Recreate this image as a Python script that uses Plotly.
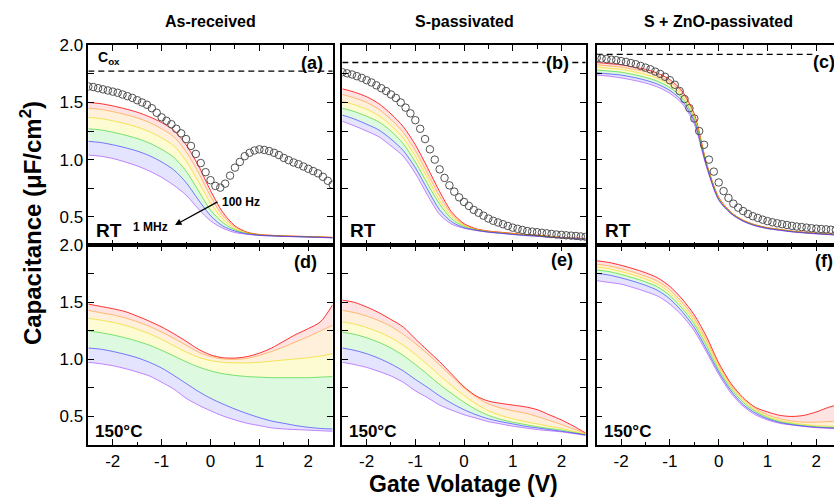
import plotly.graph_objects as go

# ---------------- data ----------------
V_LINES = [-2.5 + 0.25 * i for i in range(21)]          # gate voltage grid of the frequency curves
V_CIRC = [round(-2.5 + 0.1 * i, 2) for i in range(51)]  # gate voltage grid of the open-circle curves

COX = {"a": 1.775, "b": 1.85, "c": 1.92}

# RT, open circles
circ_a = [1.64, 1.635, 1.625, 1.615, 1.605, 1.595, 1.585, 1.57, 1.555, 1.54, 1.52, 1.50, 1.48, 1.45, 1.41,
          1.37, 1.34, 1.31, 1.27, 1.23, 1.18, 1.12, 1.05, 0.97, 0.89, 0.82, 0.77, 0.755, 0.79, 0.86,
          0.93, 0.98, 1.03, 1.06, 1.08, 1.09, 1.085, 1.075, 1.06, 1.04, 1.015, 0.995, 0.975, 0.96, 0.94,
          0.92, 0.90, 0.88, 0.85, 0.815, 0.78]
circ_b = [1.765, 1.755, 1.745, 1.73, 1.715, 1.695, 1.675, 1.65, 1.625, 1.60, 1.57, 1.54, 1.50, 1.455, 1.405,
          1.345, 1.27, 1.18, 1.09, 1.00, 0.915, 0.84, 0.775, 0.72, 0.67, 0.63, 0.595, 0.56, 0.535, 0.51,
          0.485, 0.465, 0.45, 0.435, 0.42, 0.405, 0.395, 0.385, 0.375, 0.37, 0.365, 0.36, 0.355, 0.35, 0.345,
          0.342, 0.338, 0.335, 0.332, 0.328, 0.325]
circ_c = [1.89, 1.885, 1.88, 1.875, 1.87, 1.862, 1.855, 1.845, 1.835, 1.82, 1.805, 1.79, 1.77, 1.75, 1.725,
          1.695, 1.655, 1.60, 1.53, 1.45, 1.36, 1.25, 1.13, 1.00, 0.895, 0.80, 0.725, 0.665, 0.615, 0.58,
          0.55, 0.525, 0.505, 0.49, 0.475, 0.462, 0.452, 0.443, 0.435, 0.428, 0.421, 0.415, 0.41, 0.405, 0.40,
          0.396, 0.393, 0.39, 0.387, 0.384, 0.38]

# (a) As-received, RT : 100 Hz (red) ... 1 MHz (violet)
a_red    = [1.50, 1.49, 1.47, 1.445, 1.415, 1.375, 1.325, 1.255, 1.13, 0.95, 0.73, 0.54, 0.42, 0.365, 0.345, 0.338, 0.333, 0.33, 0.327, 0.324, 0.32]
a_orange = [1.45, 1.44, 1.42, 1.395, 1.365, 1.325, 1.27, 1.20, 1.07, 0.89, 0.68, 0.51, 0.41, 0.362, 0.343, 0.336, 0.332, 0.329, 0.326, 0.323, 0.319]
a_yellow = [1.37, 1.36, 1.34, 1.315, 1.285, 1.245, 1.19, 1.12, 0.99, 0.81, 0.62, 0.48, 0.395, 0.358, 0.341, 0.335, 0.331, 0.328, 0.325, 0.322, 0.318]
a_green  = [1.27, 1.26, 1.24, 1.215, 1.185, 1.145, 1.09, 1.02, 0.90, 0.73, 0.56, 0.45, 0.385, 0.354, 0.34, 0.334, 0.33, 0.327, 0.324, 0.321, 0.317]
a_blue   = [1.16, 1.15, 1.13, 1.105, 1.075, 1.035, 0.98, 0.91, 0.80, 0.65, 0.51, 0.42, 0.375, 0.35, 0.338, 0.333, 0.329, 0.326, 0.323, 0.32, 0.316]
a_violet = [1.04, 1.03, 1.01, 0.98, 0.945, 0.90, 0.845, 0.775, 0.69, 0.57, 0.465, 0.40, 0.362, 0.347, 0.337, 0.332, 0.328, 0.325, 0.322, 0.319, 0.315]

# (b) S-passivated, RT
b_red    = [1.62, 1.59, 1.55, 1.49, 1.40, 1.29, 1.13, 0.93, 0.72, 0.54, 0.44, 0.395, 0.375, 0.365, 0.355, 0.345, 0.34, 0.33, 0.32, 0.315, 0.31]
b_orange = [1.57, 1.54, 1.50, 1.44, 1.35, 1.24, 1.08, 0.88, 0.68, 0.52, 0.43, 0.39, 0.372, 0.362, 0.352, 0.343, 0.337, 0.328, 0.319, 0.313, 0.308]
b_yellow = [1.51, 1.48, 1.44, 1.385, 1.30, 1.19, 1.03, 0.84, 0.64, 0.50, 0.425, 0.388, 0.37, 0.36, 0.35, 0.341, 0.335, 0.326, 0.318, 0.312, 0.306]
b_green  = [1.45, 1.42, 1.38, 1.33, 1.25, 1.14, 0.98, 0.79, 0.61, 0.48, 0.415, 0.385, 0.368, 0.358, 0.348, 0.339, 0.333, 0.324, 0.317, 0.311, 0.304]
b_blue   = [1.39, 1.355, 1.31, 1.26, 1.18, 1.08, 0.93, 0.74, 0.56, 0.455, 0.405, 0.382, 0.366, 0.356, 0.346, 0.337, 0.331, 0.322, 0.316, 0.31, 0.302]
b_violet = [1.335, 1.295, 1.25, 1.20, 1.12, 1.03, 0.88, 0.69, 0.52, 0.435, 0.40, 0.38, 0.365, 0.355, 0.345, 0.335, 0.33, 0.32, 0.315, 0.31, 0.30]

# (c) S + ZnO-passivated, RT
c_red    = [1.85, 1.84, 1.83, 1.81, 1.79, 1.755, 1.70, 1.60, 1.40, 0.97, 0.67, 0.54, 0.47, 0.43, 0.405, 0.39, 0.375, 0.365, 0.357, 0.35, 0.344]
c_orange = [1.83, 1.82, 1.81, 1.79, 1.77, 1.735, 1.68, 1.585, 1.39, 0.965, 0.665, 0.537, 0.468, 0.428, 0.403, 0.388, 0.373, 0.363, 0.355, 0.348, 0.342]
c_yellow = [1.81, 1.80, 1.79, 1.77, 1.745, 1.71, 1.655, 1.56, 1.37, 0.96, 0.66, 0.535, 0.467, 0.426, 0.401, 0.386, 0.372, 0.362, 0.354, 0.347, 0.341]
c_green  = [1.785, 1.775, 1.765, 1.745, 1.72, 1.685, 1.63, 1.54, 1.355, 0.955, 0.655, 0.533, 0.465, 0.424, 0.40, 0.385, 0.371, 0.361, 0.353, 0.346, 0.34]
c_blue   = [1.76, 1.75, 1.74, 1.72, 1.695, 1.66, 1.605, 1.515, 1.335, 0.945, 0.65, 0.53, 0.463, 0.422, 0.398, 0.383, 0.369, 0.36, 0.352, 0.345, 0.339]
c_violet = [1.74, 1.73, 1.715, 1.695, 1.67, 1.635, 1.58, 1.49, 1.31, 0.935, 0.645, 0.527, 0.46, 0.42, 0.396, 0.381, 0.368, 0.358, 0.35, 0.344, 0.338]

# (d) As-received, 150 C
d_red    = [1.485, 1.465, 1.445, 1.42, 1.38, 1.335, 1.285, 1.225, 1.16, 1.09, 1.04, 1.015, 1.012, 1.025, 1.055, 1.10, 1.16, 1.22, 1.27, 1.33, 1.48]
d_orange = [1.43, 1.41, 1.39, 1.365, 1.33, 1.29, 1.24, 1.185, 1.125, 1.065, 1.025, 1.005, 1.0, 1.01, 1.035, 1.07, 1.11, 1.155, 1.20, 1.25, 1.30]
d_yellow = [1.36, 1.345, 1.325, 1.30, 1.265, 1.225, 1.175, 1.12, 1.065, 1.02, 0.99, 0.975, 0.97, 0.97, 0.975, 0.985, 0.995, 1.005, 1.015, 1.03, 1.05]
d_green  = [1.25, 1.235, 1.215, 1.19, 1.16, 1.125, 1.08, 1.03, 0.98, 0.935, 0.90, 0.875, 0.86, 0.85, 0.845, 0.84, 0.84, 0.84, 0.84, 0.845, 0.85]
d_blue   = [1.10, 1.09, 1.07, 1.045, 1.015, 0.975, 0.925, 0.86, 0.79, 0.72, 0.66, 0.61, 0.565, 0.525, 0.49, 0.46, 0.44, 0.42, 0.405, 0.395, 0.39]
d_violet = [0.975, 0.962, 0.945, 0.92, 0.89, 0.855, 0.80, 0.74, 0.66, 0.60, 0.55, 0.505, 0.47, 0.44, 0.42, 0.40, 0.39, 0.385, 0.38, 0.375, 0.37]

# (e) S-passivated, 150 C
e_red    = [1.52, 1.50, 1.46, 1.41, 1.35, 1.285, 1.18, 1.08, 0.98, 0.87, 0.76, 0.68, 0.635, 0.615, 0.60, 0.585, 0.56, 0.515, 0.47, 0.415, 0.355]
e_orange = [1.43, 1.41, 1.38, 1.34, 1.29, 1.22, 1.14, 1.05, 0.95, 0.85, 0.75, 0.67, 0.61, 0.575, 0.55, 0.53, 0.50, 0.465, 0.43, 0.39, 0.35]
e_yellow = [1.33, 1.31, 1.28, 1.24, 1.19, 1.125, 1.045, 0.955, 0.86, 0.77, 0.685, 0.61, 0.55, 0.51, 0.48, 0.455, 0.435, 0.415, 0.395, 0.37, 0.345]
e_green  = [1.24, 1.22, 1.19, 1.15, 1.10, 1.035, 0.955, 0.87, 0.78, 0.70, 0.625, 0.56, 0.51, 0.475, 0.45, 0.43, 0.41, 0.395, 0.38, 0.36, 0.34]
e_blue   = [1.10, 1.08, 1.05, 1.01, 0.96, 0.90, 0.825, 0.755, 0.68, 0.615, 0.56, 0.515, 0.48, 0.455, 0.435, 0.415, 0.40, 0.385, 0.37, 0.355, 0.337]
e_violet = [0.975, 0.955, 0.93, 0.895, 0.855, 0.80, 0.725, 0.665, 0.60, 0.555, 0.515, 0.485, 0.455, 0.435, 0.415, 0.40, 0.385, 0.375, 0.365, 0.35, 0.335]

# (f) S + ZnO-passivated, 150 C
f_red    = [1.865, 1.85, 1.825, 1.795, 1.76, 1.715, 1.64, 1.53, 1.39, 1.20, 0.97, 0.79, 0.665, 0.58, 0.54, 0.51, 0.50, 0.51, 0.54, 0.58, 0.61]
f_orange = [1.835, 1.82, 1.795, 1.765, 1.73, 1.685, 1.61, 1.50, 1.36, 1.17, 0.95, 0.775, 0.655, 0.57, 0.515, 0.48, 0.46, 0.45, 0.45, 0.455, 0.46]
f_yellow = [1.81, 1.795, 1.77, 1.74, 1.705, 1.66, 1.585, 1.475, 1.335, 1.145, 0.93, 0.76, 0.64, 0.555, 0.50, 0.465, 0.445, 0.43, 0.42, 0.415, 0.41]
f_green  = [1.785, 1.77, 1.745, 1.715, 1.68, 1.635, 1.56, 1.45, 1.31, 1.12, 0.91, 0.745, 0.625, 0.545, 0.49, 0.455, 0.435, 0.42, 0.41, 0.405, 0.40]
f_blue   = [1.755, 1.74, 1.715, 1.685, 1.65, 1.605, 1.53, 1.42, 1.28, 1.09, 0.89, 0.725, 0.605, 0.53, 0.48, 0.448, 0.428, 0.415, 0.405, 0.40, 0.395]
f_violet = [1.69, 1.675, 1.66, 1.63, 1.595, 1.555, 1.485, 1.385, 1.25, 1.065, 0.87, 0.705, 0.59, 0.515, 0.47, 0.44, 0.425, 0.412, 0.402, 0.396, 0.39]

COLUMN_TITLES = ["As-received", "S-passivated", "S + ZnO-passivated"]
PANEL_LABELS = ["(a)", "(b)", "(c)", "(d)", "(e)", "(f)"]
X_TICKS = [-2, -1, 0, 1, 2]
Y_TICKVALS = [0.5, 0.75, 1.0, 1.25, 1.5, 1.75, 2.0]
Y_TICKTEXT = ["0.5", "", "1.0", "", "1.5", "", "2.0"]

# ---------------- styling ----------------
W, H = 834, 499
FONT = "Liberation Sans, Arial, sans-serif"
LINE_COLORS = ["rgba(255,0,0,0.8)", "rgba(255,140,0,0.5)", "rgba(235,215,0,0.6)",
               "rgba(0,205,0,0.5)", "rgba(0,0,255,0.5)", "rgba(150,40,255,0.55)"]
FILL_COLORS = [None, "rgba(255,150,150,0.28)", "rgba(255,205,140,0.30)", "rgba(250,245,140,0.40)",
               "rgba(150,235,160,0.32)", "rgba(175,170,255,0.32)"]

COL_PX = [(88.3, 332.7), (342.3, 585.7), (596.7, 840.7)]
ROW_PX = [(37.0, 240.7), (240.7, 444.0)]

panel_curves = [
    [a_red, a_orange, a_yellow, a_green, a_blue, a_violet],
    [b_red, b_orange, b_yellow, b_green, b_blue, b_violet],
    [c_red, c_orange, c_yellow, c_green, c_blue, c_violet],
    [d_red, d_orange, d_yellow, d_green, d_blue, d_violet],
    [e_red, e_orange, e_yellow, e_green, e_blue, e_violet],
    [f_red, f_orange, f_yellow, f_green, f_blue, f_violet],
]
circles = [circ_a, circ_b, circ_c]
cox = [COX["a"], COX["b"], COX["c"]]

fig = go.Figure()

for p in range(6):
    n = p + 1
    xa = "x" if n == 1 else f"x{n}"
    ya = "y" if n == 1 else f"y{n}"
    for k, curve in enumerate(panel_curves[p]):
        fig.add_trace(go.Scatter(
            x=V_LINES, y=curve, xaxis=xa, yaxis=ya, mode="lines",
            line=dict(color=LINE_COLORS[k], width=1, shape="spline", smoothing=0.8),
            fill=None if k == 0 else "tonexty",
            fillcolor=FILL_COLORS[k], hoverinfo="skip", showlegend=False))
    if p < 3:
        fig.add_trace(go.Scatter(
            x=[-2.5, 2.5], y=[cox[p], cox[p]], xaxis=xa, yaxis=ya, mode="lines",
            line=dict(color="black", width=1.3, dash="6px,4px"), showlegend=False))
        fig.add_trace(go.Scatter(
            x=V_CIRC, y=circles[p], xaxis=xa, yaxis=ya, mode="markers",
            marker=dict(symbol="circle-open", size=7.5, color="#505050", line=dict(width=1)),
            showlegend=False))

layout = dict(width=W, height=H, margin=dict(l=0, r=0, t=0, b=0),
              paper_bgcolor="white", plot_bgcolor="white", showlegend=False,
              font=dict(family=FONT, color="black"))

for p in range(6):
    n = p + 1
    r, c = divmod(p, 3)
    x0, x1 = COL_PX[c]
    y0, y1 = ROW_PX[r]
    pxu = (x1 - x0) / 5.0
    if x1 > W:
        dom_x = [x0 / W, 1.0]
        xr = [-2.5, -2.5 + (W - x0) / pxu]
    else:
        dom_x = [x0 / W, x1 / W]
        xr = [-2.5, 2.5]
    dom_y = [1 - y1 / H, 1 - y0 / H]
    xkey = "xaxis" if n == 1 else f"xaxis{n}"
    ykey = "yaxis" if n == 1 else f"yaxis{n}"
    layout[xkey] = dict(
        domain=dom_x, range=xr, anchor="y" if n == 1 else f"y{n}",
        showline=True, linecolor="black", linewidth=1.5, mirror="ticks",
        ticks="inside", ticklen=6, tickwidth=1.2, tickcolor="black",
        tickvals=X_TICKS, ticktext=[str(t) for t in X_TICKS],
        minor=dict(ticks="inside", ticklen=3.5, tickwidth=1.2, tickcolor="black", dtick=0.5, tick0=0, showgrid=False),
        showgrid=False, zeroline=False, showticklabels=(r == 1),
        tickfont=dict(size=17, family=FONT, color="black"))
    layout[ykey] = dict(
        domain=dom_y, range=[0.25, 2.0], anchor="x" if n == 1 else f"x{n}",
        showline=True, linecolor="black", linewidth=1.5, mirror=("ticks" if c < 2 else False),
        ticks="inside", ticklen=6, tickwidth=1.2, tickcolor="black",
        tickvals=Y_TICKVALS, ticktext=Y_TICKTEXT,
        showgrid=False, zeroline=False, showticklabels=(c == 0),
        tickfont=dict(size=17, family=FONT, color="black"))

fig.update_layout(**layout)


def P(x, y):
    return x / W, 1 - y / H


ann = []
def txt(x, y, s, size, xanchor="center", bold=True, bg=None, angle=0):
    px, py = P(x, y)
    ann.append(dict(x=px, y=py, xref="paper", yref="paper", text=(f"<b>{s}</b>" if bold else s),
                    showarrow=False, xanchor=xanchor, yanchor="middle", textangle=angle,
                    font=dict(size=size, family=FONT, color="black"),
                    bgcolor=bg, borderpad=0))

for c, t in enumerate(COLUMN_TITLES):
    txt((COL_PX[c][0] + COL_PX[c][1]) / 2, 13, t, 16)
txt(31, 218, "Capacitance (μF/cm<sup>2</sup>)", 24, angle=-90)
txt(463, 484, "Gate Volatage (V)", 23)

label_pos = [(312, 55), (557, 55), (824, 54), (305, 258), (562, 256), (824, 257)]
for i, (lx, ly) in enumerate(label_pos):
    txt(lx, ly, PANEL_LABELS[i], 18, bg=("white" if i in (1, 2) else None))

for c in range(3):
    txt(COL_PX[c][0] + 7, 226, "RT", 19, xanchor="left")
    txt(COL_PX[c][0] + 6, 430, "150°C", 17, xanchor="left")

txt(97, 50, "C<sub>ox</sub>", 14, xanchor="left")
txt(241, 197, "100 Hz", 12)
txt(150, 222, "1 MHz", 12)

hx, hy = P(175, 220)
ann.append(dict(x=hx, y=hy, xref="paper", yref="paper", text="", showarrow=True,
                ax=219 - 175, ay=196 - 220, arrowhead=2, arrowsize=1, arrowwidth=1.3,
                arrowcolor="black"))

fig.update_layout(annotations=ann)
fig.write_html("out.html", config={"displayModeBar": False},
               post_script="document.body.style.margin='0px';")
